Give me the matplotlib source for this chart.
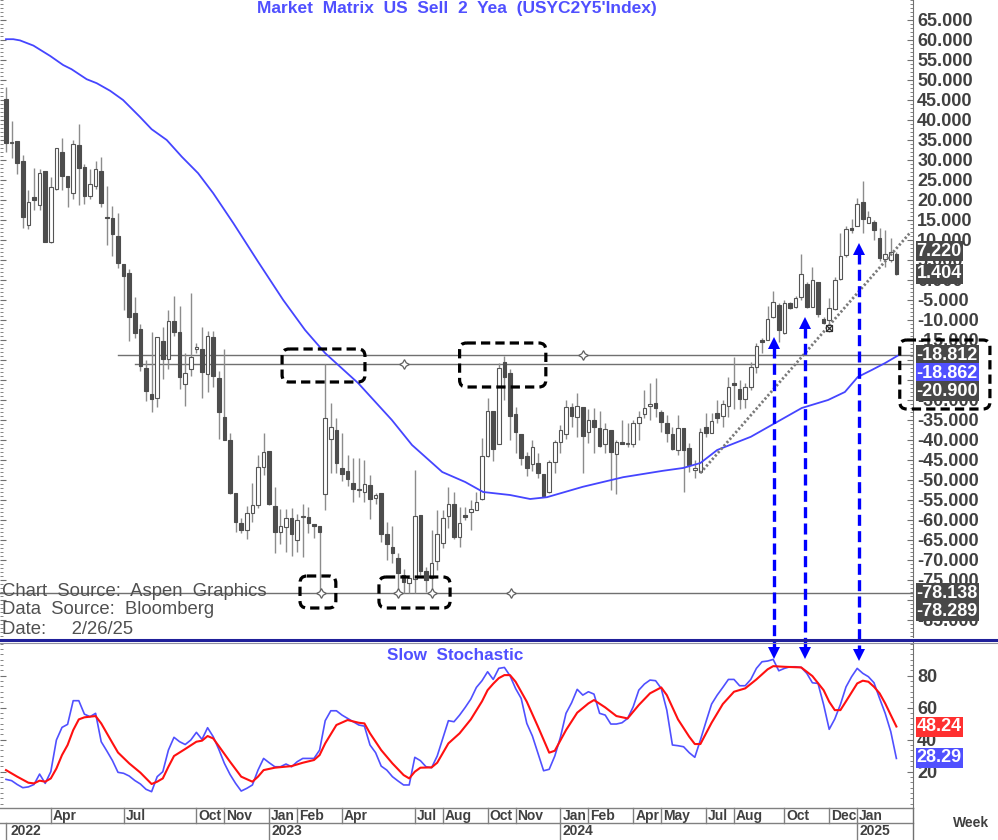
import numpy as np
import pandas as pd
import matplotlib
matplotlib.use('Agg')
import matplotlib.pyplot as plt
from matplotlib.patches import FancyBboxPatch
from matplotlib.transforms import blended_transform_factory
from matplotlib.ticker import MultipleLocator

plt.rcParams['font.family'] = ['Liberation Sans', 'DejaVu Sans']

W, H = 998, 840
txt_grey = '#404040'
pen_blue = '#5050ff'
dark_box = '#484848'

# ---- weekly bars, first bar = week of 2022-02-07 ----
first_week = '2022-02-07'

opens = [45.2, 34.2, 34.75, 29.8, 13.75, 20.8, 18.75, 27.25, 9.4, 22.7,
         32.1, 26.1, 21.7, 33.75, 28.2, 21.0, 23.5, 27.25, 15.8, 15.4,
         11.0, 4.0, 1.7, -8.2, -12.3, -22.1, -28.5, -29.6, -15.25, -19.8,
         -10.2, -13.1, -26.1, -22.3, -17.3, -17.25, -23.6, -14.3, -24.6, -34.2,
         -40.0, -53.3, -60.7, -62.5, -58.3, -56.25, -46.7, -42.75, -56.4, -62.9,
         -61.7, -59.4, -65.0, -59.3, -59.3, -61.1, -61.4, -53.6, -39.8, -37.5,
         -46.9, -47.75, -50.8, -52.6, -53.1, -51.25, -54.6, -53.2, -63.6, -66.7,
         -69.4, -73.75, -75.8, -74.8, -58.75, -72.7, -74.6, -70.2, -65.8, -59.0,
         -56.0, -64.2, -58.75, -58.1, -57.5, -54.8, -43.9, -32.75, -41.1, -20.6,
         -23.3, -33.5, -38.5, -44.0, -46.1, -45.7, -48.6, -52.9, -45.4, -40.4,
         -38.5, -31.7, -34.3, -31.7, -38.1, -35.0, -37.1, -41.1, -37.5, -43.5,
         -40.4, -41.0, -41.0, -35.8, -33.5, -31.5, -30.7, -32.9, -35.7, -38.6,
         -42.5, -37.1, -42.1, -47.5, -47.9, -36.8, -38.3, -33.3, -34.0, -31.5,
         -25.8, -27.3, -29.8, -26.8, -21.8, -15.2, -15.0, -9.3, -6.25, -13.2,
         -5.8, -6.8, -4.2, -1.0, -6.7, -0.4, -9.8, -10.0, -7.3, 0.2,
         6.25, 12.9, 13.5, 19.6, 14.3, 14.6, 10.4, 5.2, 5.0, 6.5]

highs = [48.2, 39.8, 34.75, 31.25, 22.5, 27.9, 27.7, 27.25, 25.8, 33.0,
         35.4, 26.1, 35.0, 38.9, 29.0, 27.7, 29.75, 30.8, 23.5, 18.6,
         16.8, 4.0, 2.7, -4.3, -11.1, -20.0, -12.9, -14.2, -11.8, -7.5,
         -4.0, -6.4, -18.3, -3.3, -15.7, -11.8, -12.7, -12.7, -22.7, -17.25,
         -38.25, -53.2, -59.6, -56.5, -50.8, -43.75, -38.2, -42.75, -51.7, -57.3,
         -57.3, -57.1, -58.6, -56.0, -56.7, -61.1, -61.4, -20.9, -30.8, -34.6,
         -38.3, -43.75, -44.4, -44.4, -45.0, -48.75, -53.3, -53.2, -60.4, -61.5,
         -68.3, -72.3, -73.75, -47.5, -58.75, -71.7, -62.5, -57.5, -57.5, -51.7,
         -52.9, -56.7, -56.7, -55.0, -52.9, -39.4, -29.6, -32.75, -20.7, -18.9,
         -22.3, -31.7, -38.5, -42.9, -40.0, -43.3, -48.6, -45.0, -40.0, -36.25,
         -30.0, -30.8, -28.2, -31.7, -32.25, -32.1, -32.7, -35.8, -37.5, -40.0,
         -35.0, -35.8, -35.0, -32.7, -27.5, -25.7, -24.6, -32.5, -33.75, -36.7,
         -33.75, -37.1, -40.8, -45.0, -37.1, -33.3, -33.2, -30.0, -30.0, -24.2,
         -19.2, -25.0, -25.8, -20.4, -15.8, -14.6, -6.5, -2.7, -5.8, -5.0,
         -5.4, -4.0, 6.5, -0.4, 3.3, -0.4, -9.2, -4.6, 0.8, 11.7,
         13.5, 15.25, 20.4, 24.75, 17.3, 15.0, 12.9, 12.5, 10.4, 7.1]

lows = [32.1, 30.4, 26.4, 12.9, 12.7, 17.5, 17.5, 9.4, 9.2, 22.5,
        22.5, 18.2, 20.2, 18.75, 18.9, 20.25, 22.75, 18.2, 8.75, 6.1,
        3.1, -7.5, -15.25, -14.6, -22.7, -30.2, -33.1, -31.7, -24.75, -22.25,
        -14.0, -27.3, -31.4, -23.9, -18.3, -29.6, -27.9, -26.7, -39.75, -40.0,
        -53.5, -62.9, -63.3, -64.8, -60.4, -57.1, -48.75, -56.25, -68.3, -66.1,
        -68.1, -69.0, -68.1, -69.3, -63.3, -64.6, -78.289, -57.5, -48.3, -48.2,
        -50.25, -51.5, -55.6, -54.2, -55.6, -59.75, -56.0, -65.4, -70.0, -70.8,
        -78.1, -78.2, -78.2, -78.2, -73.75, -78.1, -78.2, -72.5, -67.1, -62.1,
        -64.8, -66.7, -60.0, -62.5, -57.5, -55.0, -44.2, -45.2, -41.1, -30.0,
        -40.0, -43.3, -46.25, -49.0, -47.7, -49.6, -54.2, -53.2, -48.3, -43.3,
        -39.8, -36.7, -39.2, -48.3, -40.8, -43.2, -41.8, -43.3, -52.5, -53.5,
        -41.0, -41.7, -41.7, -40.0, -34.6, -35.0, -34.2, -37.9, -40.4, -42.5,
        -43.75, -52.9, -47.9, -49.5, -48.3, -39.2, -38.3, -35.8, -36.7, -34.2,
        -32.3, -32.3, -32.1, -27.5, -23.3, -18.3, -15.0, -9.6, -15.4, -13.5,
        -7.3, -7.1, -5.0, -7.1, -6.7, -9.2, -11.0, -12.9, -7.5, 0.0,
        5.7, 11.7, 13.5, 11.7, 14.2, 10.0, 4.8, 3.2, 4.6, 1.25]

closes = [34.2, 34.6, 29.2, 15.7, 19.4, 20.0, 26.8, 9.6, 23.2, 33.0,
          26.0, 23.2, 33.9, 27.9, 21.1, 23.9, 27.7, 19.2, 15.4, 11.5,
          4.2, 1.1, -9.3, -13.3, -21.5, -27.7, -29.75, -14.2, -19.8, -10.2,
          -12.9, -24.2, -23.3, -19.2, -16.7, -23.1, -14.0, -24.0, -33.1, -40.0,
          -53.25, -60.4, -62.5, -58.3, -56.25, -46.8, -43.1, -56.0, -62.9, -61.4,
          -59.6, -63.6, -60.0, -59.1, -60.7, -61.4, -62.9, -34.6, -36.8, -45.7,
          -48.6, -49.8, -52.3, -52.4, -51.0, -54.8, -53.75, -63.6, -66.1, -68.3,
          -73.3, -75.4, -74.6, -59.0, -72.7, -75.0, -70.7, -63.5, -59.6, -56.0,
          -64.3, -60.7, -59.2, -57.3, -55.4, -43.9, -32.75, -42.25, -22.1, -24.2,
          -34.0, -38.1, -44.6, -46.9, -41.8, -48.3, -54.0, -45.4, -40.4, -37.5,
          -31.7, -33.9, -31.4, -38.9, -35.0, -36.8, -41.5, -37.3, -43.1, -40.4,
          -41.0, -40.8, -35.8, -34.2, -32.1, -31.1, -32.1, -35.4, -38.3, -42.3,
          -37.1, -42.5, -46.25, -47.0, -38.1, -38.3, -35.2, -34.6, -31.1, -26.8,
          -26.25, -29.8, -26.8, -21.8, -16.5, -15.4, -9.75, -5.6, -12.5, -5.8,
          -7.1, -4.6, 1.4, -6.7, 0.0, -8.5, -10.7, -7.1, 0.0, 6.0,
          12.7, 12.5, 19.0, 15.2, 15.7, 12.5, 5.4, 6.4, 7.1, 1.404]

# blue moving average (read at a few weeks)
ma_weeks = [0, 1.3, 2.5, 4.9, 7.9, 10.2, 11.7, 14.4, 16.2, 18.6, 20.9, 23.9, 26, 28.7, 31.4,
            34.3, 37, 40.6, 45, 49.5, 53.4, 57, 62.9, 68.9, 72.5, 77.9, 82, 85.2, 90, 93.6,
            96.6, 103, 110.2, 117.3, 120.9, 124, 127, 133, 137.3, 142.1, 146.8, 149.8, 152.1,
            154.6, 157, 159.3]
ma_vals = [60.2, 60.2, 59.9, 58.6, 56.0, 53.75, 52.7, 50.2, 49.2, 47.3, 45.0, 40.8, 37.7, 35.0,
           30.8, 26.7, 21.7, 14.2, 4.6, -5.0, -12.5, -18.3, -25.8, -35.0, -41.25, -48.0, -50.5,
           -53.0, -53.75, -54.75, -54.3, -51.7, -49.3, -47.7, -47.0, -45.75, -42.5, -39.2, -35.8,
           -32.0, -30.0, -28.0, -24.25, -22.5, -20.75, -18.862]

# slow stochastic %K (blue), one value per week
k_vals = [15.2, 14.4, 12.0, 10.0, 10.5, 12.0, 18.5, 12.7, 20.0, 39.8,
          47.7, 49.6, 64.4, 64.4, 56.0, 54.4, 56.5, 38.75, 33.0, 27.0,
          19.6, 19.0, 17.3, 14.5, 12.3, 9.0, 7.5, 16.9, 20.0, 33.5,
          41.5, 38.75, 37.0, 39.8, 44.6, 40.2, 47.5, 41.9, 34.0, 25.2,
          18.3, 12.7, 7.9, 9.6, 11.7, 21.0, 28.3, 25.6, 23.1, 23.1,
          24.8, 23.1, 26.25, 28.3, 28.3, 28.3, 33.5, 51.9, 58.1, 58.1,
          55.4, 53.3, 51.25, 49.2, 48.5, 36.7, 31.9, 23.5, 21.0, 16.9,
          14.2, 11.7, 11.7, 29.0, 26.9, 23.1, 22.5, 29.8, 40.8, 51.9,
          51.25, 55.4, 60.2, 65.4, 72.7, 76.9, 82.5, 77.7, 84.6, 85.2,
          80.0, 72.0, 65.8, 50.2, 42.3, 31.5, 20.6, 21.5, 29.8, 41.5,
          56.5, 63.1, 71.5, 67.9, 70.0, 68.5, 56.5, 55.4, 49.8, 49.8,
          50.6, 53.3, 60.6, 71.0, 74.8, 77.3, 76.9, 72.1, 58.5, 36.7,
          36.25, 35.6, 31.9, 29.0, 39.8, 51.25, 62.3, 67.9, 72.7, 77.7,
          77.7, 73.75, 73.75, 77.7, 84.6, 88.75, 89.2, 90.2, 83.1, 84.6,
          85.6, 85.6, 85.2, 81.5, 75.6, 75.2, 62.0, 46.5, 53.0, 62.0,
          73.0, 79.4, 84.6, 81.5, 79.4, 75.6, 65.8, 56.5, 45.0, 28.29]

# slow stochastic %D (red), read at a few weeks
d_weeks = [0, 2, 4, 5, 6, 7, 8, 9, 10, 11, 12, 13, 14, 16, 17, 19, 20, 22, 24, 26,
           27, 28, 29, 30, 32, 34, 35, 36, 37, 38, 40, 42, 44, 45, 46, 48, 51, 53, 55, 56,
           57, 59, 61, 63, 64, 65, 67, 69, 71, 72, 73, 74, 76, 77, 79, 81, 83, 85, 86, 87,
           88, 89, 90, 91, 93, 95, 97, 98, 100, 102, 104, 105, 107, 109, 111, 113, 115, 117, 118, 120,
           122, 123, 124, 126, 128, 130, 132, 134, 136, 137, 139, 142, 144, 146, 147, 148, 149, 150, 152, 153,
           154, 155, 156, 157, 158, 159]
d_vals = [21.0, 16.9, 13.1, 12.7, 14.4, 13.75, 15.8, 22.0, 30.4, 36.7, 46.0, 52.7, 54.0, 54.8, 50.2, 38.0, 32.0, 25.2, 19.4, 12.3,
          13.75, 15.8, 23.1, 29.8, 34.2, 38.75, 39.4, 42.3, 40.8, 36.0, 26.25, 16.9, 13.75, 16.9, 21.0, 22.5, 23.5, 25.6, 27.3, 30.4,
          37.7, 49.2, 52.3, 50.6, 50.2, 44.0, 33.5, 25.2, 17.9, 15.8, 20.0, 22.5, 22.7, 25.6, 37.7, 44.0, 52.7, 64.0, 71.0, 75.0,
          78.5, 80.4, 80.4, 76.25, 63.75, 48.1, 31.9, 33.1, 46.0, 56.9, 62.7, 64.8, 60.2, 54.8, 53.3, 61.7, 69.0, 72.7, 67.9, 52.7,
          41.9, 37.3, 37.3, 50.6, 62.3, 70.0, 72.1, 77.7, 84.0, 86.0, 85.6, 85.2, 79.8, 71.0, 63.75, 58.5, 58.5, 64.0, 75.2, 76.9,
          76.25, 73.1, 69.0, 62.7, 55.4, 48.24]

# horizontal support / resistance levels and where they start
level_vals = [-18.812, -20.900, -78.138]
level_from = ['2022-06-27', '2022-07-18', '2022-02-07']
# small markers sitting on the levels
pin_weeks = [71.1, 103.1, 56.2, 70.0, 76.1, 90.1]
pin_vals = [-20.9, -18.812, -78.2, -78.2, -78.2, -78.2]

# trend line
trend_weeks = [124, 161.4]
trend_vals = [-48.25, 11.75]

# x axis labels
month_labels = ['Apr', 'Jul', 'Oct', 'Nov', 'Jan', 'Feb', 'Apr', 'Jul', 'Aug', 'Oct', 'Nov',
                'Jan', 'Feb', 'Apr', 'May', 'Jul', 'Aug', 'Oct', 'Dec', 'Jan']
month_dates = ['2022-04-04', '2022-07-04', '2022-10-03', '2022-11-07', '2023-01-02', '2023-02-06',
               '2023-04-03', '2023-07-03', '2023-08-07', '2023-10-02', '2023-11-06', '2024-01-01',
               '2024-02-05', '2024-04-01', '2024-05-06', '2024-07-01', '2024-08-05', '2024-10-07',
               '2024-12-02', '2025-01-06']
year_labels = ['2022', '2023', '2024', '2025']
year_dates = ['2022-02-07', '2023-01-02', '2024-01-01', '2025-01-06']

# value tags on the right
price_tags = ['7.220', '1.404', '-18.812', '-18.862', '-20.900', '-78.138', '-78.289']
price_tag_pos = [7.25, 1.5, -18.75, -23.25, -27.75, -78.25, -82.75]
price_tag_col = [dark_box, dark_box, dark_box, pen_blue, dark_box, dark_box, dark_box]
stoch_tags = ['48.24', '28.29']
stoch_tag_pos = [48.0, 28.6]
stoch_tag_col = ['#ff3030', pen_blue]


def week_of(d):
    return (pd.Timestamp(d) - pd.Timestamp(first_week)).days / 7.0


fig = plt.figure(figsize=(W / 100, H / 100), dpi=100)
ax = fig.add_axes([0, (H - 637) / H, 913 / W, 637 / H])
axs = fig.add_axes([0, (H - 808) / H, 913 / W, (808 - 642) / H])
xlim = (-6 / 5.6, 907 / 5.6)

# ---------------- price panel ----------------
idx = np.arange(len(closes))
o = np.array(opens); c = np.array(closes); hi = np.array(highs); lo = np.array(lows)
up = c > o
body_lo = np.minimum(o, c)
body_h = np.maximum(np.abs(c - o), 0.3)
ax.vlines(idx, lo, hi, color='#8c8c8c', lw=1.0, zorder=2)
ax.bar(idx[up], body_h[up], bottom=body_lo[up], width=0.62, color='white',
       edgecolor='#555555', lw=0.8, zorder=3)
ax.bar(idx[~up], body_h[~up], bottom=body_lo[~up], width=0.62, color='#4d4d4d',
       edgecolor='#4d4d4d', lw=0.8, zorder=3)

ax.plot(ma_weeks, ma_vals, color='#4545ff', lw=1.3, zorder=4)

for v, d in zip(level_vals, level_from):
    ax.plot([week_of(d) if week_of(d) > 0 else xlim[0], xlim[1]], [v, v], color='#707070', lw=1.0, zorder=1)
ax.plot(pin_weeks, pin_vals, ls='none', marker=(4, 1, 0), ms=7, mfc='white', mec='#606060', mew=0.9, zorder=5)

ax.plot(trend_weeks, trend_vals, color='#7a7a7a', lw=2.0, ls=(0, (0.8, 0.8)), zorder=4)
ax.plot([147], [-12], ls='none', marker='s', ms=4, mfc='white', mec='#303030', mew=0.9, zorder=5)
ax.plot([147], [-12], ls='none', marker='x', ms=4, mec='#303030', mew=0.9, zorder=6)

ax.set_xlim(*xlim)
ax.set_ylim(-89.25, 70)
for s in ['top', 'left', 'bottom']:
    ax.spines[s].set_visible(False)
ax.spines['right'].set_color('#707070')
ax.yaxis.tick_right()
ticks = np.arange(-85, 66, 5)
ax.set_yticks(ticks, [f'{t:.3f}' for t in ticks], fontweight='bold')
ax.yaxis.set_minor_locator(MultipleLocator(1))
ax.tick_params(axis='y', which='both', direction='in', left=True, right=True,
               labelleft=False, labelright=True, colors='#707070', labelcolor=txt_grey,
               labelsize=13, pad=3)
ax.tick_params(axis='y', which='major', length=4)
ax.tick_params(axis='y', which='minor', length=2)
ax.set_xticks([])

# ---------------- stochastic panel ----------------
axs.plot(idx, k_vals, color=pen_blue, lw=1.2, zorder=3)
axs.plot(d_weeks, d_vals, color='#ff1010', lw=1.5, zorder=4)
axs.set_xlim(*xlim)
axs.set_ylim(-2.7, 101.1)
for s in ['top', 'left', 'bottom']:
    axs.spines[s].set_visible(False)
axs.spines['right'].set_color('#707070')
axs.yaxis.tick_right()
axs.set_yticks([20, 40, 60, 80], ['20', '40', '60', '80'], fontweight='bold')
axs.yaxis.set_minor_locator(MultipleLocator(10 / 3))
axs.tick_params(axis='y', which='both', direction='in', left=True, right=True,
                labelleft=False, labelright=True, colors='#707070', labelcolor=txt_grey,
                labelsize=13, pad=3)
axs.tick_params(axis='y', which='major', length=4)
axs.tick_params(axis='y', which='minor', length=2)
axs.set_xticks([])

# value tags
tr = blended_transform_factory(ax.transAxes, ax.transData)
for t, v, col in zip(price_tags, price_tag_pos, price_tag_col):
    ax.text(1.004, v, t, transform=tr, ha='left', va='center', fontsize=13, fontweight='bold',
            color='white', zorder=10, clip_on=False,
            bbox=dict(boxstyle='square,pad=0.06', fc=col, ec='none'))
trs = blended_transform_factory(axs.transAxes, axs.transData)
for t, v, col in zip(stoch_tags, stoch_tag_pos, stoch_tag_col):
    axs.text(1.004, v, t, transform=trs, ha='left', va='center', fontsize=13, fontweight='bold',
             color='white', zorder=10, clip_on=False,
             bbox=dict(boxstyle='square,pad=0.06', fc=col, ec='none'))

# ---------------- pixel overlay for annotations ----------------
ov = fig.add_axes([0, 0, 1, 1])
ov.set_xlim(0, W)
ov.set_ylim(H, 0)
ov.axis('off')
ov.patch.set_alpha(0)
ov.set_zorder(20)


def px(a, x, y):
    X, Y = a.transData.transform((x, y))
    return X, H - Y


# dashed rounded boxes (week from, week to, value top, value bottom)
boxes = [(49.3, 64.1, -17.25, -25.5), (81.0, 96.4, -15.75, -26.75),
         (52.5, 58.9, -74.0, -82.0), (66.6, 79.3, -74.25, -82.0),
         (159.6, 175.7, -15.0, -32.25)]
for w0, w1, v0, v1 in boxes:
    x0, y0 = px(ax, w0, v0)
    x1, y1 = px(ax, w1, v1)
    ov.add_patch(FancyBboxPatch((x0, y0), x1 - x0, y1 - y0,
                                boxstyle='round,pad=0,rounding_size=7', fill=False,
                                ec='black', lw=2.3, ls=(0, (2.9, 1.6))))

# blue dashed arrows from stochastic peaks up to price
arrows = [(137.2, -14.5, 91.0), (142.6, -9.5, 91.0), (152.3, 9.0, 90.0)]
for w, v_top, s_bot in arrows:
    xt, yt = px(ax, w, v_top)
    xb, yb = px(axs, w, s_bot)
    ov.plot([xt, xt], [yt + 9, yb - 9], color='#0000ff', lw=2.4, ls=(0, (3.3, 1.6)),
            solid_capstyle='butt')
    ov.plot([xt], [yt + 5], marker='^', ms=8, color='#0000ff', mew=0)
    ov.plot([xb], [yb - 5], marker='v', ms=8, color='#0000ff', mew=0)

# panel separator
ov.plot([0, W], [639.5, 639.5], color='#20209a', lw=2.2)
ov.plot([0, W], [643, 643], color='#9090a0', lw=0.8)

# x axis frame
ov.plot([0, 913], [808, 808], color='#808080', lw=1)
ov.plot([0, 913], [822.5, 822.5], color='#808080', lw=1)
ov.plot([913, 913], [808, H], color='#707070', lw=1)
for lab, d in zip(month_labels, month_dates):
    xm, _ = px(axs, week_of(d), 0)
    ov.plot([xm, xm], [808, 822.5], color='#808080', lw=1)
    ov.text(xm + 2, 816, lab, ha='left', va='center', fontsize=10, fontweight='bold', color=txt_grey)
for lab, d in zip(year_labels, year_dates):
    xm, _ = px(axs, week_of(d), 0)
    xm = max(xm, 0.5)
    ov.plot([xm, xm], [822.5, H], color='#808080', lw=1)
    ov.text(xm + 5 if lab == '2022' else xm + 2, 831, lab, ha='left', va='center',
            fontsize=10, fontweight='bold', color=txt_grey)
ov.text(953, 823, 'Week', ha='left', va='center', fontsize=10, fontweight='bold', color=txt_grey)

# titles and source notes
ov.text(457, 8, "Market  Matrix  US  Sell  2  Yea  (USYC2Y5'Index)", ha='center', va='center',
        fontsize=12.5, fontweight='bold', color=pen_blue)
ov.text(455, 655, 'Slow  Stochastic', ha='center', va='center',
        fontsize=12.3, fontweight='bold', color=pen_blue)
ov.text(2, 591, 'Chart  Source:  Aspen  Graphics', ha='left', va='center', fontsize=13.3, color='#505050')
ov.text(2, 610, 'Data  Source:  Bloomberg', ha='left', va='center', fontsize=13.3, color='#505050')
ov.text(2, 629, 'Date:     2/26/25', ha='left', va='center', fontsize=13.3, color='#505050')

plt.savefig('out.png', dpi=100)
